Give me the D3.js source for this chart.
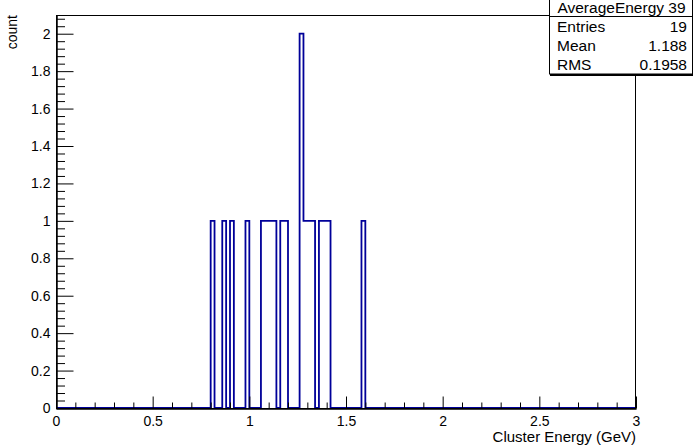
<!DOCTYPE html>
<html>
<head>
<meta charset="utf-8">
<script src="https://cdn.jsdelivr.net/npm/d3@7"></script>
<style>
  html, body { margin: 0; padding: 0; background: #fff; }
  svg { display: block; font-family: "Liberation Sans", Arial, Helvetica, sans-serif; }
</style>
</head>
<body>
<svg id="chart" width="693" height="447"></svg>
<script>
// ---- data ----
const binWidth = 0.02;
const binLow = [0.80, 0.86, 0.90, 0.98, 1.06, 1.08, 1.10, 1.12, 1.16, 1.18, 1.26, 1.28, 1.30, 1.32, 1.36, 1.38, 1.40, 1.58];
const binCounts = [1, 1, 1, 1, 1, 1, 1, 1, 1, 1, 2, 1, 1, 1, 1, 1, 1, 1];
const xTickValues = [0, 0.5, 1, 1.5, 2, 2.5, 3];
const xTickLabels = ["0", "0.5", "1", "1.5", "2", "2.5", "3"];
const yTickValues = [0, 0.2, 0.4, 0.6, 0.8, 1, 1.2, 1.4, 1.6, 1.8, 2];
const yTickLabels = ["0", "0.2", "0.4", "0.6", "0.8", "1", "1.2", "1.4", "1.6", "1.8", "2"];
const statsTitle = "AverageEnergy 39";
const statsLabels = ["Entries", "Mean", "RMS"];
const statsValues = ["19", "1.188", "0.1958"];
const xTitle = "Cluster Energy (GeV)";
const yTitle = "count";

// ---- layout ----
const L = 56, R = 636, T = 15, B = 408;
const svg = d3.select("#chart");
const x = d3.scaleLinear().domain([0, 3]).range([L, R]);
const y = d3.scaleLinear().domain([0, 2.1]).range([B, T]);

// histogram outline points
const nBins = Math.round(3 / binWidth);
const counts = new Array(nBins).fill(0);
binLow.forEach((lo, i) => { counts[Math.round(lo / binWidth)] = binCounts[i]; });
const pts = [[0, 0]];
counts.forEach((c, i) => { pts.push([i * binWidth, c]); pts.push([(i + 1) * binWidth, c]); });
pts.push([3, 0]);
const line = d3.line().x(d => x(d[0])).y(d => y(d[1]));
svg.append("path").attr("d", line(pts))
  .attr("fill", "none").attr("stroke", "#000099").attr("stroke-width", 1.8)
  .attr("stroke-linejoin", "miter");

// frame
svg.append("rect").attr("x", L + 0.5).attr("y", T + 0.5)
  .attr("width", R - L - 1).attr("height", B - T)
  .attr("fill", "none").attr("stroke", "#000").attr("stroke-width", 1);

// x axis
const xMinor = d3.range(0, 3.0001, 0.1).filter(v => Math.abs(v * 2 - Math.round(v * 2)) > 1e-6);
const gx = svg.append("g").attr("transform", `translate(0,${B + 0.5})`);
gx.call(d3.axisBottom(x).tickValues(xTickValues)
  .tickFormat((d, i) => xTickLabels[i]).tickSizeInner(-12).tickSizeOuter(0).tickPadding(4));
gx.append("g").call(d3.axisBottom(x).tickValues(xMinor).tickFormat("").tickSizeInner(-6).tickSizeOuter(0));
gx.selectAll(".domain").attr("stroke", "#000");
gx.selectAll("text").attr("font-size", 14).attr("fill", "#000").attr("dy", "0").attr("y", 17.5);
gx.selectAll(".tick line").attr("stroke", "#000");

// y axis
const yMinor = d3.range(0, 2.1, 0.04).filter(v => Math.abs(v * 5 - Math.round(v * 5)) > 1e-6);
const gy = svg.append("g").attr("transform", `translate(${L + 0.5},0)`);
gy.call(d3.axisLeft(y).tickValues(yTickValues)
  .tickFormat((d, i) => yTickLabels[i]).tickSizeInner(-17).tickSizeOuter(0).tickPadding(6));
gy.append("g").call(d3.axisLeft(y).tickValues(yMinor).tickFormat("").tickSizeInner(-8.5).tickSizeOuter(0));
gy.selectAll(".domain").attr("stroke", "#000");
gy.selectAll("text").attr("font-size", 14).attr("fill", "#000").attr("x", -6);
gy.selectAll(".tick line").attr("stroke", "#000");

// axis titles
svg.append("text").attr("x", R).attr("y", 442).attr("text-anchor", "end")
  .attr("font-size", 15).text(xTitle);
svg.append("text").attr("transform", `translate(17,${T}) rotate(-90)`)
  .attr("text-anchor", "end").attr("font-size", 14).text(yTitle);

// stats box
const sx = 549, sy = 0, sw = 143, sh = 74;
const stats = svg.append("g");
stats.append("rect").attr("x", sx + 0.5).attr("y", sy - 1).attr("width", sw).attr("height", sh + 1)
  .attr("fill", "#fff").attr("stroke", "#000").attr("stroke-width", 1);
stats.append("line").attr("x1", sx + 1).attr("x2", sx + sw + 1).attr("y1", sh + 1).attr("y2", sh + 1)
  .attr("stroke", "#000").attr("stroke-width", 2);
stats.append("line").attr("x1", sx).attr("x2", sx + sw + 1).attr("y1", 16.5).attr("y2", 16.5)
  .attr("stroke", "#000");
stats.append("text").attr("x", sx + sw / 2 + 1).attr("y", 13).attr("text-anchor", "middle")
  .attr("font-size", 15.5).text(statsTitle);
statsLabels.forEach((lab, i) => {
  const by = 31.5 + i * 19;
  stats.append("text").attr("x", sx + 8).attr("y", by).attr("font-size", 15.5).text(lab);
  stats.append("text").attr("x", sx + sw - 5).attr("y", by).attr("text-anchor", "end")
    .attr("font-size", 15.5).text(statsValues[i]);
});
</script>
</body>
</html>
